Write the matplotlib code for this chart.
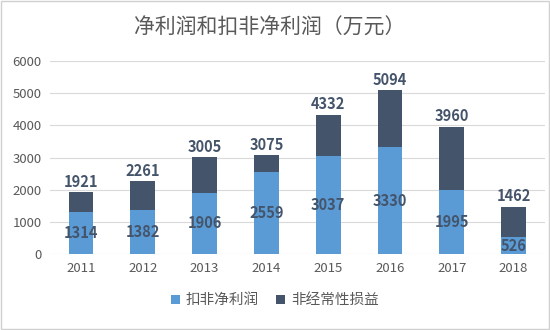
import matplotlib.pyplot as plt
import numpy as np

plt.rcParams['font.family'] = ['Noto Sans CJK SC', 'DejaVu Sans']

years = ['2011', '2012', '2013', '2014', '2015', '2016', '2017', '2018']
kouf = [1314, 1382, 1906, 2559, 3037, 3330, 1995, 526]      # 扣非净利润
total = [1921, 2261, 3005, 3075, 4332, 5094, 3960, 1462]    # 净利润
feijing = [t - k for t, k in zip(total, kouf)]              # 非经常性损益

c_light = '#5b9bd5'
c_dark = '#44546a'
c_text = '#595959'

fig = plt.figure(figsize=(5.5, 3.3), dpi=100)
ax = fig.add_axes([0.091, 0.23, 0.899, 0.585])

x = np.arange(len(years))
ax.bar(x, kouf, width=0.4, color=c_light, label='扣非净利润', zorder=3)
ax.bar(x, feijing, width=0.4, bottom=kouf, color=c_dark, label='非经常性损益', zorder=3)

for xi, k, t in zip(x, kouf, total):
    ax.text(xi, k / 2, str(k), ha='center', va='center', fontsize=10.5,
            fontweight='bold', color=c_dark, zorder=4)
    ax.text(xi, t + 80, str(t), ha='center', va='bottom', fontsize=10.5,
            fontweight='bold', color=c_dark, zorder=4)

ax.set_ylim(0, 6000)
ax.set_xlim(-0.5, len(years) - 0.5)
ax.set_yticks(range(0, 6001, 1000))
ax.set_xticks(x)
ax.set_xticklabels(years)
ax.tick_params(length=0, labelsize=9.5, colors=c_text, pad=6)
ax.grid(axis='y', color='#d9d9d9', linewidth=0.8, zorder=0)
for s in ax.spines.values():
    s.set_visible(False)

fig.text(0.49, 0.915, '净利润和扣非净利润（万元）', ha='center', va='center',
         fontsize=15, color=c_text)

fig.legend(loc='center', bbox_to_anchor=(0.5, 0.09), ncol=2, frameon=False,
           fontsize=10.5, labelcolor=c_text, handlelength=0.6, handleheight=0.6,
           handletextpad=0.4, columnspacing=1.2)

fig.patches.append(plt.Rectangle((0.002, 0.003), 0.996, 0.994, transform=fig.transFigure,
                                 fill=False, edgecolor='#d0d0d0', linewidth=1))

fig.savefig('out.png', dpi=100)
